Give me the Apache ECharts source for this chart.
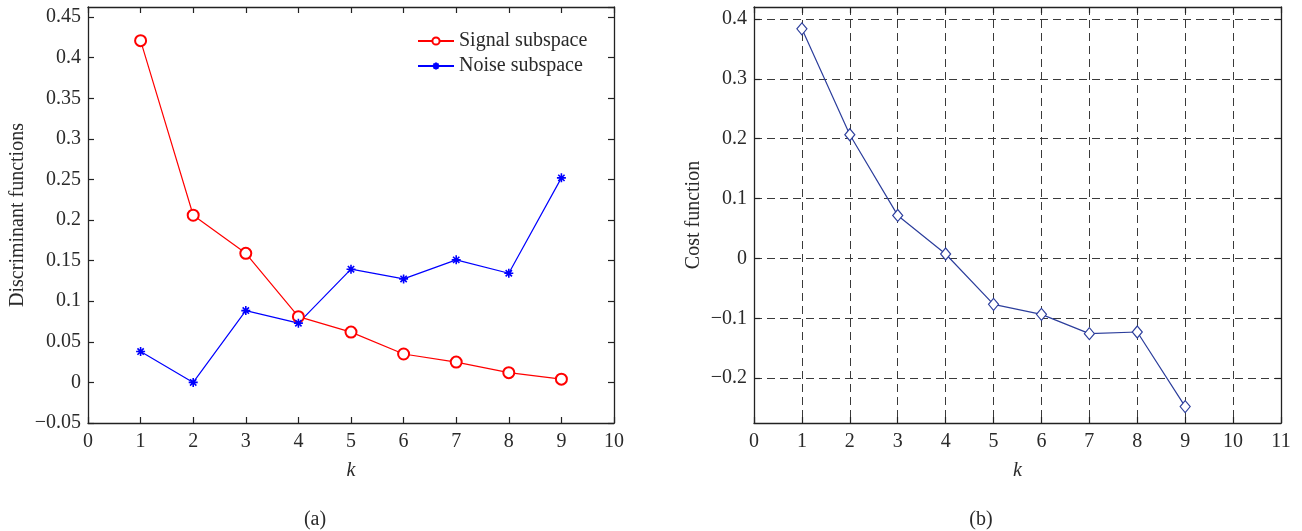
<!DOCTYPE html>
<html>
<head>
<meta charset="utf-8">
<script src="https://cdn.jsdelivr.net/npm/echarts@6/dist/echarts.min.js"></script>
<style>
html,body{margin:0;padding:0;background:#fff;}
#chart{width:1302px;height:531px;}
</style>
</head>
<body>
<div id="chart"></div>
<script>
// ---- data ----
const kValues = [1, 2, 3, 4, 5, 6, 7, 8, 9];
const signalSubspace = [0.421, 0.206, 0.159, 0.081, 0.062, 0.035, 0.025, 0.012, 0.004];
const noiseSubspace = [0.038, 0.000, 0.0885, 0.073, 0.1395, 0.1275, 0.151, 0.1345, 0.252];
const costFunction = [0.3835, 0.2065, 0.0718, 0.0073, -0.0768, -0.0935, -0.1257, -0.123, -0.2476];
const costTicks = [-0.2, -0.1, 0, 0.1, 0.2, 0.3, 0.4];
const seriesNames = ['Signal subspace', 'Noise subspace', 'Cost function'];
const axisNames = { xLeft: 'k', yLeft: 'Discriminant functions', xRight: 'k', yRight: 'Cost function' };
const panelLabels = ['(a)', '(b)'];

const FONT = 'Liberation Serif';
const FS = 20;
const FRAME = '#222';
const TXT = '#2a2a2a';

function fmt(v) {
  const s = String(parseFloat(Number(v).toFixed(3)));
  return s.replace('-', '\u2212');
}
function pairs(ys) { return kValues.map((k, i) => [k, ys[i]]); }

const axLine = { show: true, onZero: false, lineStyle: { color: FRAME, width: 1.3 } };
const axTick = { show: true, inside: true, length: 6, lineStyle: { color: FRAME, width: 1.2 } };
const labelStyle = { fontFamily: FONT, fontSize: FS, color: TXT };
const dashed = { show: true, lineStyle: { color: '#3a3a3a', width: 1, type: [8, 5] } };

function xAx(grid, min, max, pos, showLabel, split, name) {
  const o = {
    gridIndex: grid, type: 'value', min: min, max: max, interval: 1, position: pos,
    axisLine: axLine, axisTick: axTick,
    axisLabel: Object.assign({ show: showLabel, margin: 9, formatter: fmt }, labelStyle),
    splitLine: split ? dashed : { show: false }
  };
  if (name) {
    o.name = name; o.nameLocation = 'middle'; o.nameGap = 38; o.nameMoveOverlap = false;
    o.nameTextStyle = { fontFamily: FONT, fontSize: FS, fontStyle: 'italic', color: TXT };
  }
  return o;
}
function yAx(grid, min, max, interval, pos, showLabel, split, name, gap) {
  const o = {
    gridIndex: grid, type: 'value', min: min, max: max, position: pos,
    axisLine: axLine, axisTick: Object.assign({}, axTick),
    axisLabel: Object.assign({ show: showLabel, margin: 7, formatter: fmt, showMaxLabel: false, showMinLabel: true }, labelStyle),
    splitLine: split ? dashed : { show: false }
  };
  if (interval) o.interval = interval;
  if (name) {
    o.name = name; o.nameLocation = 'middle'; o.nameGap = gap; o.nameMoveOverlap = false;
    o.nameTextStyle = { fontFamily: FONT, fontSize: FS, color: TXT };
  }
  return o;
}

const asterisk = 'path://M0,-1L0,1M-1,0L1,0M-0.7,-0.7L0.7,0.7M-0.7,0.7L0.7,-0.7';

const rightY = yAx(1, -0.275, 0.42, null, 'left', true, true, axisNames.yRight, 50);
rightY.axisTick.customValues = costTicks;
rightY.axisLabel.customValues = costTicks;
rightY.axisLabel.showMaxLabel = true;
const rightY2 = yAx(1, -0.275, 0.42, null, 'right', false, false);
rightY2.axisTick.customValues = costTicks;

const option = {
  animation: false,
  backgroundColor: '#fff',
  grid: [
    { left: 88, top: 7, width: 526, height: 416 },
    { left: 754, top: 7, width: 527, height: 416 }
  ],
  xAxis: [
    xAx(0, 0, 10, 'bottom', true, false, axisNames.xLeft),
    xAx(0, 0, 10, 'top', false, false),
    xAx(1, 0, 11, 'bottom', true, true, axisNames.xRight),
    xAx(1, 0, 11, 'top', false, false)
  ],
  yAxis: [
    yAx(0, -0.05, 0.4625, 0.05, 'left', true, false, axisNames.yLeft, 60),
    yAx(0, -0.05, 0.4625, 0.05, 'right', false, false),
    rightY,
    rightY2
  ],
  legend: {
    data: [seriesNames[0], seriesNames[1]],
    orient: 'vertical', left: 412, top: 26,
    itemWidth: 36, itemHeight: 9, itemGap: 5,
    textStyle: { fontFamily: FONT, fontSize: FS, color: TXT }
  },
  series: [
    {
      name: seriesNames[0], type: 'line', xAxisIndex: 0, yAxisIndex: 0,
      data: pairs(signalSubspace),
      symbol: 'emptyCircle', symbolSize: 11,
      lineStyle: { color: '#ff0000', width: 1.2 },
      itemStyle: { color: '#ff0000', borderColor: '#ff0000', borderWidth: 1.2 }
    },
    {
      name: seriesNames[1], type: 'line', xAxisIndex: 0, yAxisIndex: 0,
      data: pairs(noiseSubspace),
      symbol: asterisk, symbolSize: 9,
      lineStyle: { color: '#0000ff', width: 1.2 },
      itemStyle: { color: '#0000ff', borderColor: '#0000ff', borderWidth: 1.6 }
    },
    {
      name: seriesNames[2], type: 'line', xAxisIndex: 2, yAxisIndex: 2,
      data: pairs(costFunction),
      symbol: 'diamond', symbolSize: [10, 12],
      lineStyle: { color: '#2c3e9c', width: 1.2 },
      itemStyle: { color: '#ffffff', borderColor: '#2c3e9c', borderWidth: 1.2 }
    }
  ],
  graphic: [
    { type: 'text', x: 315, y: 520, style: { text: panelLabels[0], font: FS + 'px ' + FONT, fill: TXT, textAlign: 'center', textVerticalAlign: 'middle' } },
    { type: 'text', x: 981, y: 520, style: { text: panelLabels[1], font: FS + 'px ' + FONT, fill: TXT, textAlign: 'center', textVerticalAlign: 'middle' } }
  ]
};

const chart = echarts.init(document.getElementById('chart'), null, { renderer: 'canvas' });
chart.setOption(option);
</script>
</body>
</html>
